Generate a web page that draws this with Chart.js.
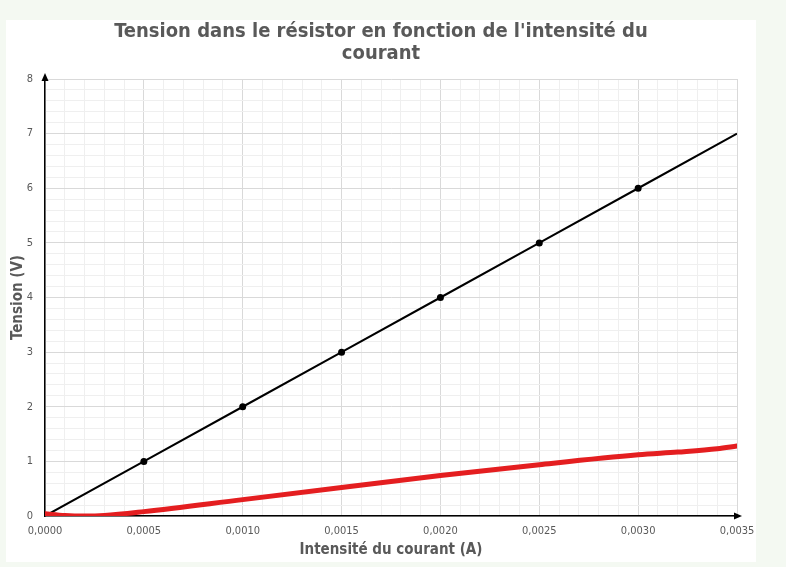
<!DOCTYPE html>
<html>
<head>
    <title></title>
    <meta charset="utf-8" />
    <style>
        html, body { margin: 0; padding: 0; background: #f4f9f2; }
        #box { position: absolute; left: 6px; top: 20px; width: 750px; height: 542px; background: #fff; }
    </style>
    <script src="https://cdn.jsdelivr.net/npm/chart.js"></script>
</head>
<body>
<div id="box"><canvas id="myChart" width="750" height="542"></canvas></div>
<script>
// données
let intensite = [0, 0.0005, 0.0010, 0.0015, 0.0020, 0.0025, 0.0030, 0.0035];
let tension = [0, 1, 2, 3, 4, 5, 6, 7];
let intensite_r = [0, 0.0001, 0.0002, 0.0003, 0.0005, 0.0010, 0.0015, 0.0020, 0.0025, 0.0030, 0.0032, 0.0034, 0.0035];
let tension_r = [0.04, 0.01, 0.0, 0.01, 0.08, 0.30, 0.52, 0.74, 0.94, 1.12, 1.17, 1.23, 1.28];
let titre = ["Tension dans le résistor en fonction de l'intensité du", "courant"];
let gris = '#595959';
let police = "'DejaVu Sans Condensed', sans-serif";

function fmt(v) { return v.toFixed(4).replace('.', ','); }

let arrows = {
    id: 'arrows',
    afterDatasetsDraw(chart) {
        let c = chart.ctx, a = chart.chartArea;
        c.save();
        c.fillStyle = '#000';
        c.beginPath();
        c.moveTo(a.left, a.top - 6);
        c.lineTo(a.left - 3.5, a.top + 2);
        c.lineTo(a.left + 3.5, a.top + 2);
        c.fill();
        c.beginPath();
        c.moveTo(a.right + 5, a.bottom);
        c.lineTo(a.right - 3, a.bottom - 3.5);
        c.lineTo(a.right - 3, a.bottom + 3.5);
        c.fill();
        c.restore();
    }
};

let ctx = document.getElementById('myChart').getContext('2d');
let myChart = new Chart(ctx, {
    type: 'scatter',
    data: {
        datasets: [
            {
                label: 'mesures',
                data: intensite.map((x, i) => ({ x: x, y: tension[i] })),
                showLine: true,
                borderColor: '#000',
                backgroundColor: '#000',
                borderWidth: 2,
                pointRadius: intensite.map((x, i) => i < intensite.length - 1 ? 2.5 : 0),
                order: 2
            },
            {
                label: 'courbe',
                data: intensite_r.map((x, i) => ({ x: x, y: tension_r[i] })),
                showLine: true,
                borderColor: '#e41e20',
                borderWidth: 5,
                borderCapStyle: 'round',
                pointRadius: 0,
                cubicInterpolationMode: 'monotone',
                order: 1
            }
        ]
    },
    options: {
        responsive: false,
        animation: false,
        layout: { padding: 0 },
        plugins: {
            legend: { display: false },
            tooltip: { enabled: false },
            title: {
                display: true,
                text: titre,
                color: gris,
                font: { family: police, size: 20, weight: 'bold', lineHeight: 1.1 },
                padding: { top: 1, bottom: 14 }
            }
        },
        scales: {
            x: {
                type: 'linear',
                min: 0, max: 0.0035,
                border: { color: '#000', width: 1.5 },
                afterFit: s => { s.height = 46; s.paddingLeft = 0; s.paddingRight = 19; },
                ticks: {
                    stepSize: 0.0001, autoSkip: false, maxRotation: 0, padding: 9,
                    color: gris, font: { family: police, size: 11 },
                    callback: (v, i) => i % 5 === 0 ? fmt(v) : ''
                },
                grid: {
                    drawTicks: false,
                    color: c => c.index % 5 === 0 ? '#d9d9d9' : '#efefef'
                },
                title: {
                    display: true, text: 'Intensité du courant (A)', color: gris,
                    font: { family: police, size: 15, weight: 'bold' }, padding: { top: 0, bottom: 3 }
                }
            },
            y: {
                min: 0, max: 8,
                border: { color: '#000', width: 1.5 },
                afterFit: s => { s.width = 39; },
                ticks: {
                    stepSize: 0.2, autoSkip: false, padding: 12,
                    color: gris, font: { family: police, size: 11 },
                    callback: (v, i) => i % 5 === 0 ? v.toFixed(0) : ''
                },
                grid: {
                    drawTicks: false,
                    color: c => c.index % 5 === 0 ? '#d9d9d9' : '#efefef'
                },
                title: {
                    display: true, text: 'Tension (V)', color: gris,
                    font: { family: police, size: 15, weight: 'bold' }, padding: { top: 3, bottom: 0 }
                }
            }
        }
    },
    plugins: [arrows]
});
</script>
</body>
</html>
